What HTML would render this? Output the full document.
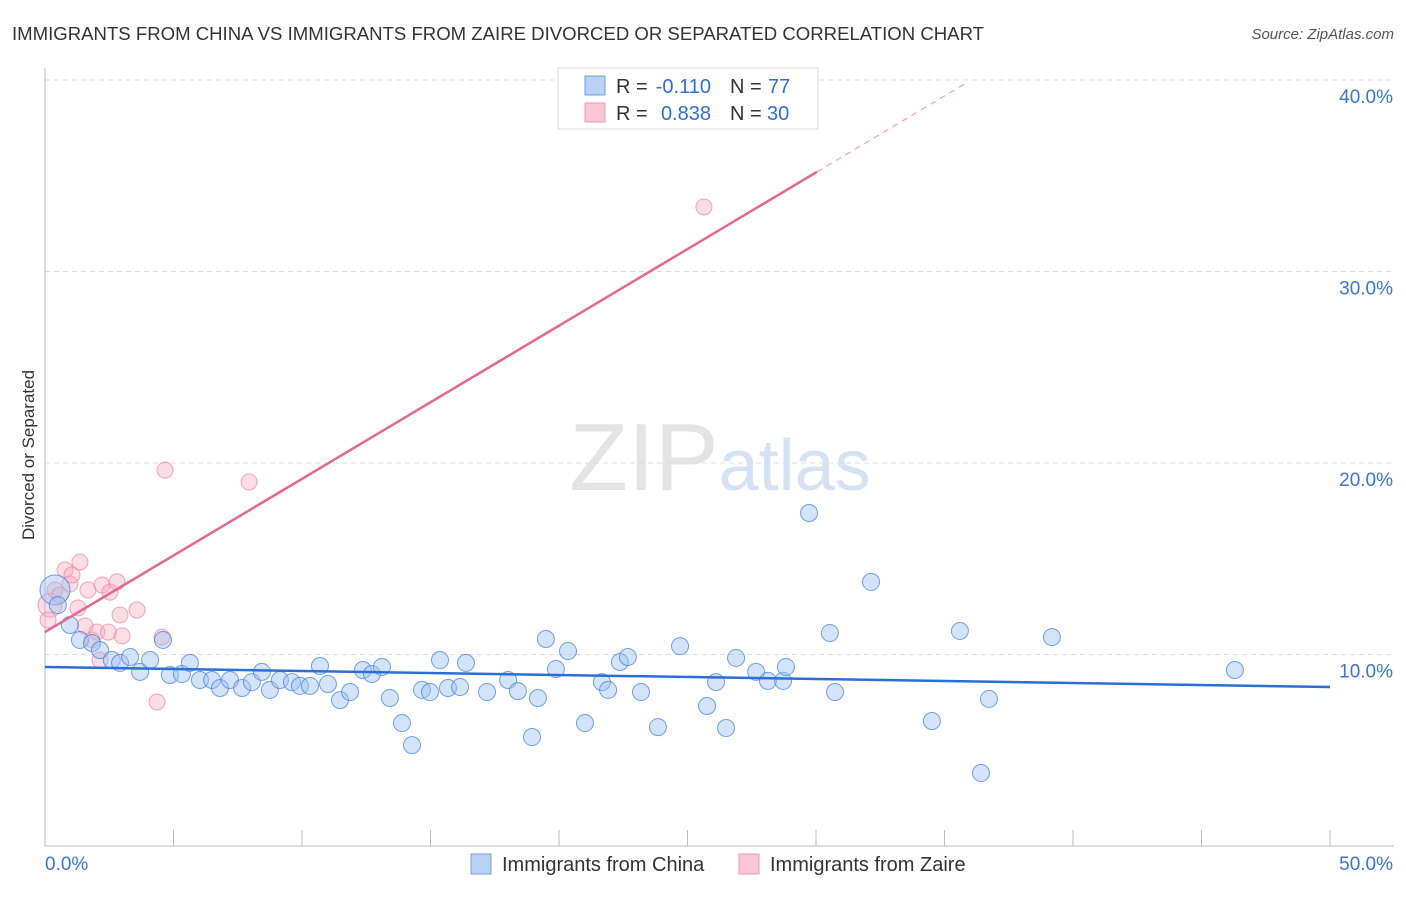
<!DOCTYPE html>
<html><head><meta charset="utf-8"><style>
body{margin:0;background:#fff;font-family:"Liberation Sans",sans-serif;}
svg text{font-family:"Liberation Sans",sans-serif;}
</style></head><body>
<svg id="chart" width="1406" height="892" xmlns="http://www.w3.org/2000/svg">
<text x="12" y="40" font-size="18" fill="#333" textLength="972" lengthAdjust="spacingAndGlyphs">IMMIGRANTS FROM CHINA VS IMMIGRANTS FROM ZAIRE DIVORCED OR SEPARATED CORRELATION CHART</text>
<text x="1394" y="39" font-size="15" fill="#555" text-anchor="end" font-style="italic">Source: ZipAtlas.com</text>
<text x="720" y="490" font-size="96" text-anchor="middle" fill="#e4e4e4" font-family="Liberation Serif">ZIP<tspan fill="#d4e2f4" font-family="Liberation Sans" font-size="72">atlas</tspan></text>
<text transform="translate(34,455) rotate(-90)" font-size="17" fill="#333" text-anchor="middle">Divorced or Separated</text>
<g id="grid"></g><g id="axes"></g><g id="pts"></g><g id="lines"></g>
<g>
<rect x="558" y="68" width="260" height="61" fill="#fff" stroke="#ddd"/>
<rect x="585" y="76" width="20" height="19" fill="#b8d2f4" stroke="#6f9fe0"/>
<rect x="585" y="103" width="20" height="19" fill="#f9c6d4" stroke="#ec9ab2"/>
<text x="616" y="93" font-size="20" fill="#333">R =</text>
<text x="711" y="93" font-size="20" fill="#2f6fdb" text-anchor="end">-0.110</text>
<text x="730" y="93" font-size="20" fill="#333">N =</text>
<text x="768" y="93" font-size="20" fill="#2f6fdb">77</text>
<text x="616" y="120" font-size="20" fill="#333">R =</text>
<text x="711" y="120" font-size="20" fill="#2f6fdb" text-anchor="end">0.838</text>
<text x="730" y="120" font-size="20" fill="#333">N =</text>
<text x="767" y="120" font-size="20" fill="#2f6fdb">30</text>
</g>
<g>
<rect x="471" y="854" width="20" height="20" fill="#b8d2f4" stroke="#6f9fe0"/>
<text x="502" y="871" font-size="20" fill="#333">Immigrants from China</text>
<rect x="739" y="854" width="20" height="20" fill="#f9c6d4" stroke="#ec9ab2"/>
<text x="770" y="871" font-size="20" fill="#333">Immigrants from Zaire</text>
</g>
</svg>
<script>
const yTicks=[10,20,30,40];
const yTickLabels=["10.0%","20.0%","30.0%","40.0%"];
const xTicks=[0,5,10,15,20,25,30,35,40,45,50];
const chinaX=[0.39,0.5,0.97,1.36,1.83,2.14,2.6,2.92,3.31,3.7,4.09,4.59,4.86,5.33,5.64,6.03,6.5,6.81,7.2,7.67,8.05,8.44,8.75,9.14,9.61,9.92,10.31,10.7,11.01,11.48,11.87,12.37,12.72,13.11,13.42,13.89,14.28,14.67,14.98,15.37,15.68,16.15,16.38,17.2,18.02,18.4,18.95,19.18,19.49,19.88,20.35,21.01,21.67,21.91,22.37,22.68,23.19,23.85,24.71,25.76,26.11,26.5,26.89,27.67,28.13,28.72,28.83,29.73,30.54,30.74,32.14,34.51,35.6,36.42,36.73,39.18,46.3];
const chinaY=[13.37,12.58,11.54,10.76,10.6,10.23,9.71,9.56,9.87,9.09,9.71,10.76,8.93,8.98,9.56,8.67,8.67,8.25,8.67,8.25,8.56,9.09,8.15,8.67,8.56,8.36,8.36,9.4,8.46,7.62,8.04,9.19,8.98,9.35,7.73,6.42,5.27,8.15,8.04,9.71,8.25,8.3,9.56,8.04,8.67,8.09,5.69,7.73,10.81,9.24,10.18,6.42,8.56,8.15,9.61,9.87,8.04,6.21,10.44,7.31,8.56,6.16,9.82,9.09,8.62,8.62,9.35,17.39,11.12,8.04,13.79,6.53,11.23,3.81,7.68,10.91,9.19];
const zaireX=[0.2,0.39,0.58,0.78,0.97,1.05,1.36,1.28,1.56,1.83,1.67,2.02,2.14,2.22,2.47,2.53,2.8,2.92,3.0,3.58,4.36,4.55,4.67,7.94,25.64,0.12];
const zaireY=[12.58,13.37,13.1,14.41,13.68,14.15,14.83,12.43,11.49,10.76,13.37,11.17,9.71,13.63,11.17,13.26,13.79,12.06,10.97,12.32,7.52,10.91,19.63,19.01,33.37,11.8];
const chinaTrend=[9.35,8.3];
const zaireTrend=[11.17,0.8];
const NS="http://www.w3.org/2000/svg";
const X=v=>45+v*25.7, Y=v=>846-v*19.15;
function mk(t,a,p){const e=document.createElementNS(NS,t);for(const k in a)e.setAttribute(k,a[k]);p.appendChild(e);return e;}
const g=document.getElementById('grid'),ax=document.getElementById('axes'),pts=document.getElementById('pts'),ln=document.getElementById('lines');
yTicks.forEach((t,i)=>{
 const l=mk('line',{x1:45,x2:1394,y1:Y(t),y2:Y(t),stroke:'#ddd','stroke-dasharray':'5,4'},g);
 
 
 const tx=mk('text',{x:1393,y:Y(t)+23,'font-size':19,fill:'#3a74d8','text-anchor':'end'},ax);tx.textContent=yTickLabels[i];
 
 
});
const la=mk('line',{x1:45,x2:45,y1:68,y2:846,stroke:'#bbb'},ax);


const lb=mk('line',{x1:45,x2:1394,y1:846,y2:846,stroke:'#bbb'},ax);


xTicks.forEach(t=>{if(t>0){const k=mk('line',{x1:X(t),x2:X(t),y1:830,y2:846,stroke:'#bbb'},ax);
 
 }});
const x0=mk('text',{x:45,y:870,'font-size':19,fill:'#3a74d8'},ax);x0.textContent='0.0%';


const x1=mk('text',{x:1393,y:870,'font-size':19,fill:'#3a74d8','text-anchor':'end'},ax);x1.textContent='50.0%';


zaireX.forEach((v,i)=>{const c=mk('circle',{cx:X(v),cy:Y(zaireY[i]),r:i==0?12:8,fill:'rgba(246,170,192,0.4)',stroke:'rgba(236,130,160,0.7)','stroke-width':1},pts);
 
 });
chinaX.forEach((v,i)=>{const c=mk('circle',{cx:X(v),cy:Y(chinaY[i]),r:i==0?15:8.5,fill:'rgba(160,196,240,0.45)',stroke:'rgba(70,130,220,0.75)','stroke-width':1},pts);
 
 });
const bl=mk('line',{x1:X(0),y1:Y(chinaTrend[0]),x2:X(50),y2:Y(chinaTrend[1]),stroke:'#2a6fd6','stroke-width':2.5},ln);


const pe=30.04,pd=35.8;
const pl=mk('line',{x1:X(0),y1:Y(zaireTrend[0]),x2:X(pe),y2:Y(zaireTrend[0]+zaireTrend[1]*pe),stroke:'#e86690','stroke-width':2.5},ln);


const pdl=mk('line',{x1:X(pe),y1:Y(zaireTrend[0]+zaireTrend[1]*pe),x2:X(pd),y2:Y(zaireTrend[0]+zaireTrend[1]*pd),stroke:'#f0a0b8','stroke-width':1.2,'stroke-dasharray':'6,5'},ln);


</script>
</body></html>
